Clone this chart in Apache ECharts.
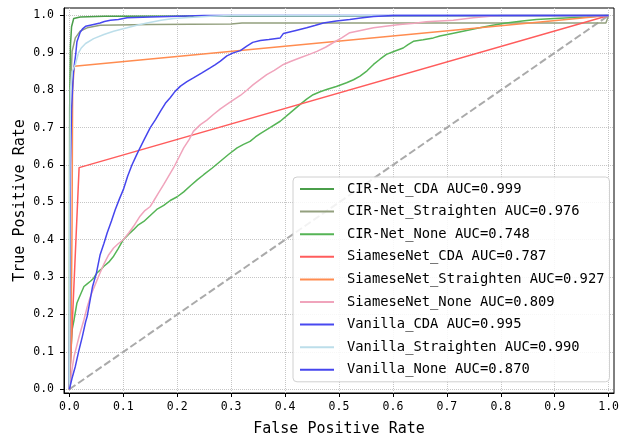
<!DOCTYPE html>
<html>
<head>
<meta charset="utf-8">
<script src="https://cdn.jsdelivr.net/npm/echarts@6/dist/echarts.min.js"></script>
<style>html,body{margin:0;padding:0;background:#fff;}#c{width:625px;height:439px;}</style>
</head>
<body>
<div id="c"></div>
<script>
var seriesNames = ['CIR-Net_CDA AUC=0.999','CIR-Net_Straighten AUC=0.976','CIR-Net_None AUC=0.748','SiameseNet_CDA AUC=0.787','SiameseNet_Straighten AUC=0.927','SiameseNet_None AUC=0.809','Vanilla_CDA AUC=0.995','Vanilla_Straighten AUC=0.990','Vanilla_None AUC=0.870'];
var tickValues = [0,0.1,0.2,0.3,0.4,0.5,0.6,0.7,0.8,0.9,1.0];

var cirCda = [[0,0],[0.0005,0.75],[0.002,0.92],[0.004,0.97],[0.008,0.992],[0.02,0.996],[0.065,0.998],[0.066,1.0],[1,1]];
var cirStraighten = [[0,0],[0.0008,0.5],[0.002,0.8],[0.005,0.904],[0.011,0.94],[0.02,0.958],[0.033,0.967],[0.057,0.974],[0.15,0.976],[0.3,0.977],[0.32,0.98],[0.995,0.98],[1,1]];
var cirNone = [[0,0],[0.002,0.08],[0.005,0.159],[0.0087,0.186],[0.014,0.231],[0.018,0.245],[0.027,0.275],[0.033,0.282],[0.039,0.289],[0.045,0.297],[0.051,0.311],[0.058,0.32],[0.064,0.329],[0.073,0.34],[0.082,0.356],[0.09,0.375],[0.1,0.40],[0.11,0.415],[0.119,0.427],[0.128,0.44],[0.138,0.449],[0.15,0.465],[0.162,0.481],[0.175,0.492],[0.187,0.505],[0.2,0.515],[0.212,0.528],[0.225,0.545],[0.237,0.56],[0.249,0.574],[0.265,0.592],[0.28,0.61],[0.295,0.628],[0.311,0.646],[0.323,0.655],[0.335,0.663],[0.345,0.675],[0.354,0.684],[0.372,0.70],[0.391,0.717],[0.41,0.74],[0.428,0.762],[0.44,0.776],[0.452,0.788],[0.465,0.796],[0.477,0.802],[0.495,0.81],[0.514,0.82],[0.527,0.828],[0.539,0.838],[0.552,0.852],[0.564,0.869],[0.576,0.883],[0.588,0.896],[0.604,0.905],[0.619,0.913],[0.628,0.922],[0.638,0.931],[0.656,0.935],[0.675,0.94],[0.687,0.945],[0.71,0.952],[0.73,0.958],[0.761,0.967],[0.785,0.974],[0.81,0.98],[0.84,0.985],[0.866,0.989],[0.9,0.992],[0.928,0.994],[0.96,0.996],[0.996,1.0],[1,1]];
var siaCda = [[0,0],[0.018,0.593],[1,1]];
var siaStraighten = [[0,0],[0.003,0.12],[0.005,0.45],[0.006,0.8],[0.009,0.864],[1,1]];
var siaNone = [[0,0],[0.0056,0.06],[0.0087,0.088],[0.018,0.141],[0.027,0.186],[0.033,0.22],[0.039,0.248],[0.045,0.27],[0.055,0.305],[0.064,0.335],[0.073,0.36],[0.082,0.378],[0.091,0.39],[0.1,0.40],[0.11,0.418],[0.119,0.436],[0.131,0.463],[0.14,0.478],[0.15,0.489],[0.156,0.503],[0.165,0.525],[0.175,0.548],[0.184,0.57],[0.193,0.592],[0.203,0.62],[0.212,0.646],[0.222,0.668],[0.23,0.69],[0.243,0.708],[0.255,0.72],[0.267,0.735],[0.28,0.75],[0.292,0.762],[0.305,0.775],[0.317,0.786],[0.329,0.80],[0.341,0.815],[0.354,0.829],[0.366,0.842],[0.38,0.853],[0.397,0.869],[0.41,0.877],[0.428,0.887],[0.445,0.896],[0.459,0.904],[0.475,0.915],[0.489,0.927],[0.505,0.94],[0.52,0.954],[0.54,0.96],[0.564,0.967],[0.59,0.972],[0.613,0.976],[0.64,0.979],[0.662,0.983],[0.712,0.987],[0.749,0.994],[0.78,0.998],[0.8,1.0],[1,1]];
var vanCda = [[0,0],[0.001,0.4],[0.002,0.6],[0.004,0.748],[0.0074,0.847],[0.012,0.9],[0.014,0.93],[0.02,0.955],[0.025,0.965],[0.03,0.971],[0.045,0.976],[0.057,0.98],[0.065,0.984],[0.076,0.987],[0.091,0.989],[0.107,0.994],[0.15,0.996],[0.2,0.998],[0.25,1.0],[1,1]];
var vanStraighten = [[0,0],[0.0005,0.5],[0.002,0.8],[0.005,0.85],[0.011,0.869],[0.017,0.9],[0.022,0.913],[0.03,0.925],[0.045,0.938],[0.064,0.949],[0.082,0.958],[0.107,0.967],[0.125,0.974],[0.144,0.98],[0.17,0.987],[0.193,0.992],[0.23,0.995],[0.261,0.998],[0.3,1.0],[1,1]];
var vanNone = [[0,0],[0.005,0.03],[0.011,0.061],[0.017,0.1],[0.024,0.141],[0.03,0.18],[0.033,0.195],[0.038,0.235],[0.043,0.275],[0.05,0.31],[0.057,0.36],[0.064,0.39],[0.07,0.418],[0.078,0.45],[0.085,0.48],[0.093,0.51],[0.1,0.534],[0.108,0.57],[0.116,0.6],[0.124,0.625],[0.131,0.646],[0.14,0.672],[0.15,0.70],[0.16,0.722],[0.169,0.744],[0.178,0.765],[0.187,0.78],[0.196,0.797],[0.206,0.811],[0.218,0.823],[0.23,0.833],[0.245,0.846],[0.261,0.86],[0.27,0.868],[0.28,0.878],[0.292,0.892],[0.304,0.9],[0.317,0.906],[0.329,0.918],[0.34,0.928],[0.354,0.933],[0.37,0.936],[0.391,0.94],[0.397,0.952],[0.42,0.96],[0.44,0.967],[0.455,0.973],[0.471,0.98],[0.495,0.985],[0.52,0.989],[0.54,0.993],[0.564,0.997],[0.6,1.0],[1,1]];
var diagonal = [[0,0],[1,1]];

var seriesData = [cirCda, cirStraighten, cirNone, siaCda, siaStraighten, siaNone, vanCda, vanStraighten, vanNone];
var colors = ['#4a9e4a','#93a07e','#55b455','#ff5c5c','#ff8c50','#f0a4bc','#4848f0','#bcdeea','#4646ee'];

var FONT = '"DejaVu Sans Mono", monospace';
var series = [{
  type:'line', name:'diag', data: diagonal, showSymbol:false, silent:true,
  lineStyle:{color:'#aaaaaa', width:2, type:[7.4,3.2]}, z:2
}];
for (var i=0;i<seriesNames.length;i++){
  series.push({type:'line', name:seriesNames[i], data:seriesData[i], showSymbol:false, symbol:'none', silent:true,
    color:colors[i], lineStyle:{color:colors[i], width:1.5}, z:3});
}

var chart = echarts.init(document.getElementById('c'), null, {renderer:'canvas'});
chart.setOption({
  animation:false,
  backgroundColor:'#fff',
  grid:{left:64, right:11, top:8, bottom:46, outerBoundsMode:'none', containLabel:false, show:true, borderColor:'#000', borderWidth:1, backgroundColor:'transparent'},
  xAxis:{type:'value', min:-0.01, max:1.01,
    name:'False Positive Rate', nameLocation:'middle', nameGap:29, nameMoveOverlap:false,
    nameTextStyle:{fontFamily:FONT, fontSize:15, color:'#000'},
    axisLine:{show:true, onZero:false, lineStyle:{color:'#000', width:1}},
    axisTick:{show:true, length:4, customValues:tickValues, lineStyle:{color:'#000'}},
    axisLabel:{customValues:tickValues, formatter:function(v){return v.toFixed(1);}, fontFamily:FONT, fontSize:11.5, color:'#000', margin:8},
    splitLine:{show:true, lineStyle:{color:'#c6c6c6', type:'dotted', width:1}}
  },
  yAxis:{type:'value', min:-0.01, max:1.02,
    name:'True Positive Rate', nameLocation:'middle', nameGap:36, nameMoveOverlap:false,
    nameTextStyle:{fontFamily:FONT, fontSize:15, color:'#000'},
    axisLine:{show:true, onZero:false, lineStyle:{color:'#000', width:1}},
    axisTick:{show:true, length:4, customValues:tickValues, lineStyle:{color:'#000'}},
    axisLabel:{customValues:tickValues, formatter:function(v){return v.toFixed(1);}, fontFamily:FONT, fontSize:11.5, color:'#000', margin:10},
    splitLine:{show:true, lineStyle:{color:'#c6c6c6', type:'dotted', width:1}}
  },
  legend:{data:seriesNames, orient:'vertical', left:293, top:177,
    icon:'rect', itemWidth:34, itemHeight:2, itemGap:6.6,
    padding:[4,5,4,7],
    backgroundColor:'rgba(255,255,255,0.85)', borderColor:'#d0d0d0', borderWidth:1, borderRadius:4,
    textStyle:{fontFamily:FONT, fontSize:13.8, color:'#000', lineHeight:16, padding:[0,0,0,8]}
  },
  series: series
});
</script>
</body>
</html>
